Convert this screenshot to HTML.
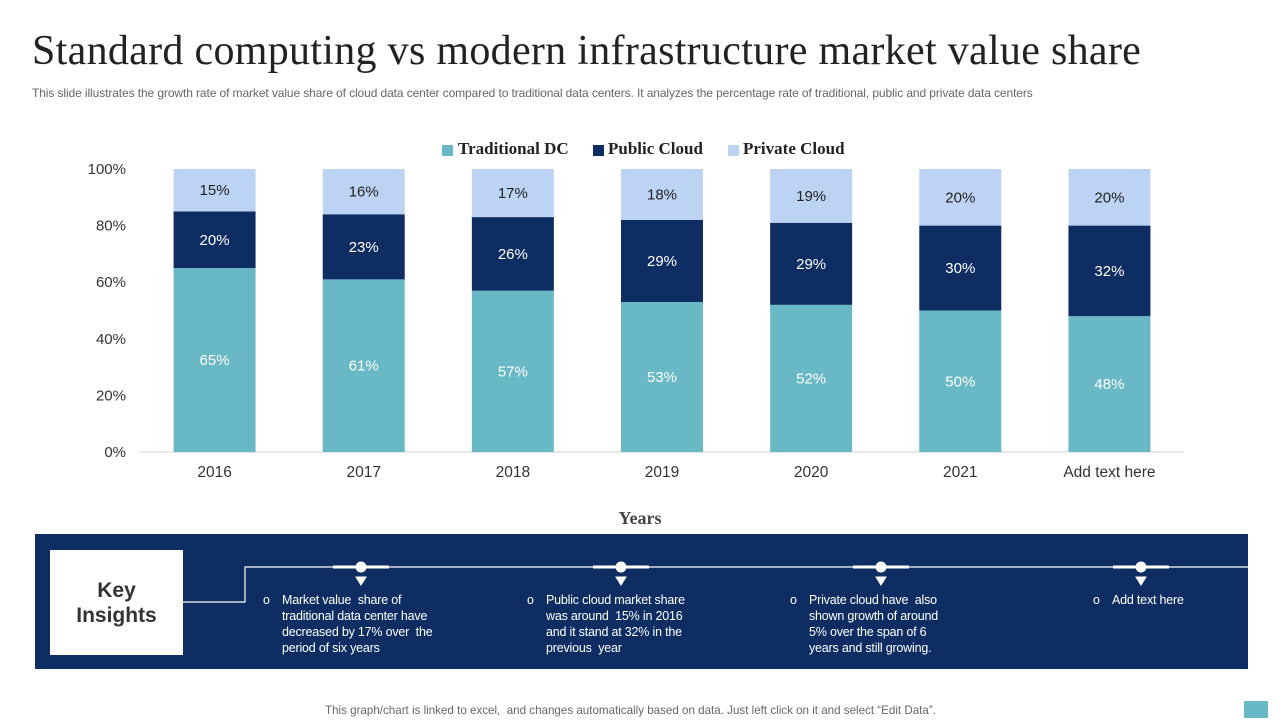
<!DOCTYPE html>
<html><head><meta charset="utf-8"><style>
body{margin:0;width:1280px;height:720px;background:#fff;position:relative;overflow:hidden;font-family:"Liberation Sans",sans-serif}
.abs{position:absolute}
.title{left:32px;top:27px;font-family:"Liberation Serif",serif;font-size:42px;color:#222;letter-spacing:0.3px;white-space:nowrap}
.sub{left:32px;top:86px;font-size:12px;color:#666;white-space:nowrap;letter-spacing:-0.1px}
.ins{color:#fff;font-size:12.5px;line-height:16px;letter-spacing:-0.2px;white-space:nowrap}
</style></head><body>
<div class="abs title">Standard computing vs modern infrastructure market value share</div>
<div class="abs sub">This slide illustrates the growth rate of market value share of cloud data center compared to traditional data centers. It analyzes the percentage rate of traditional, public and private data centers</div>
<svg class="abs" style="left:0;top:0" width="1280" height="540">
<g id="legend" font-family="Liberation Serif,serif" font-weight="bold" font-size="17" fill="#222">
<rect x="442" y="145" width="11" height="11" fill="#69b8c5"/><text x="458" y="154">Traditional DC</text>
<rect x="593" y="145" width="11" height="11" fill="#0e2d62"/><text x="608" y="154">Public Cloud</text>
<rect x="728" y="145" width="11" height="11" fill="#bdd3f4"/><text x="743" y="154">Private Cloud</text>
</g>
<g id="axes"></g><g id="bars"></g>
<text x="640" y="524" text-anchor="middle" font-family="Liberation Serif,serif" font-weight="bold" font-size="18" fill="#444">Years</text>
</svg>
<div class="abs" style="left:35px;top:534px;width:1213px;height:135px;background:#0e2d62"></div>
<div class="abs" style="left:50px;top:550px;width:133px;height:105px;background:#fff;display:flex;align-items:center;justify-content:center;text-align:center;font-size:21px;font-weight:bold;color:#333;line-height:25px">Key<br>Insights</div>
<svg class="abs" style="left:0;top:540px" width="1280" height="80">
<path d="M183 62 H245 V27 H1248" stroke="#fff" stroke-width="1.2" fill="none"/>
<g fill="#fff" stroke="#fff">
<line x1="333" y1="27" x2="389" y2="27" stroke-width="3"/><circle cx="361" cy="27" r="5"/><path d="M356 37 L366 37 L361 45Z"/>
<line x1="593" y1="27" x2="649" y2="27" stroke-width="3"/><circle cx="621" cy="27" r="5"/><path d="M616 37 L626 37 L621 45Z"/>
<line x1="853" y1="27" x2="909" y2="27" stroke-width="3"/><circle cx="881" cy="27" r="5"/><path d="M876 37 L886 37 L881 45Z"/>
<line x1="1113" y1="27" x2="1169" y2="27" stroke-width="3"/><circle cx="1141" cy="27" r="5"/><path d="M1136 37 L1146 37 L1141 45Z"/>
</g></svg>
<div class="abs ins" style="left:263px;top:592px">o</div>
<div class="abs ins" style="left:282px;top:592px">Market value &nbsp;share of<br>traditional data center have<br>decreased by 17% over &nbsp;the<br>period of six years</div>
<div class="abs ins" style="left:527px;top:592px">o</div>
<div class="abs ins" style="left:546px;top:592px">Public cloud market share<br>was around &nbsp;15% in 2016<br>and it stand at 32% in the<br>previous &nbsp;year</div>
<div class="abs ins" style="left:790px;top:592px">o</div>
<div class="abs ins" style="left:809px;top:592px">Private cloud have &nbsp;also<br>shown growth of around<br>5% over the span of 6<br>years and still growing.</div>
<div class="abs ins" style="left:1093px;top:592px">o</div>
<div class="abs ins" style="left:1112px;top:592px">Add text here</div>
<div class="abs" style="left:325px;top:704px;font-size:11.6px;color:#666;white-space:nowrap">This graph/chart is linked to excel, &nbsp;and changes automatically based on data. Just left click on it and select “Edit Data”.</div>
<div class="abs" style="left:1244px;top:701px;width:24px;height:17px;background:#69b8c5"></div>
<script>
const categories=["2016","2017","2018","2019","2020","2021","Add text here"];
const traditional=[65,61,57,53,52,50,48];
const publicCloud=[20,23,26,29,29,30,32];
const privateCloud=[15,16,17,18,19,20,20];
const yTicks=[0,20,40,60,80,100];
const NS="http://www.w3.org/2000/svg";
const y0=452,y1=169,xL=140,xR=1184,bw=82;
const y=v=>y0-(y0-y1)*v/100;
const x=i=>xL+(xR-xL)/categories.length*(i+0.5);
const ax=document.getElementById('axes'),bars=document.getElementById('bars');
function mk(tag,at,p){const e=document.createElementNS(NS,tag);for(const k in at)e.setAttribute(k,at[k]);p.appendChild(e);return e;}
const base=mk('line',{x1:xL,x2:xR,y1:y0,y2:y0,stroke:'#d0d0d0'},ax);


yTicks.forEach(t=>{const tx=mk('text',{x:126,y:y(t)+5,'text-anchor':'end','font-size':15,fill:'#333'},ax);tx.textContent=t+'%';

});
categories.forEach((c,i)=>{
 const tx=mk('text',{x:x(i),y:477,'text-anchor':'middle','font-size':15.5,fill:'#333'},ax);tx.textContent=c;
 
 
 let cum=0;
 [[traditional,'#69b8c5','#fff','traditional'],[publicCloud,'#0e2d62','#fff','public'],[privateCloud,'#bdd3f4','#222','private']].forEach(([arr,col,tc,nm])=>{
  const v=arr[i];const top=y(cum+v),bot=y(cum);
  const r=mk('rect',{x:x(i)-bw/2,y:top,width:bw,height:bot-top,fill:col},bars);
  
  
  const l=mk('text',{x:x(i),y:(top+bot)/2+5,'text-anchor':'middle','font-size':15,fill:tc},bars);l.textContent=v+'%';
  
  
  cum+=v;});
});
</script>
</body></html>
